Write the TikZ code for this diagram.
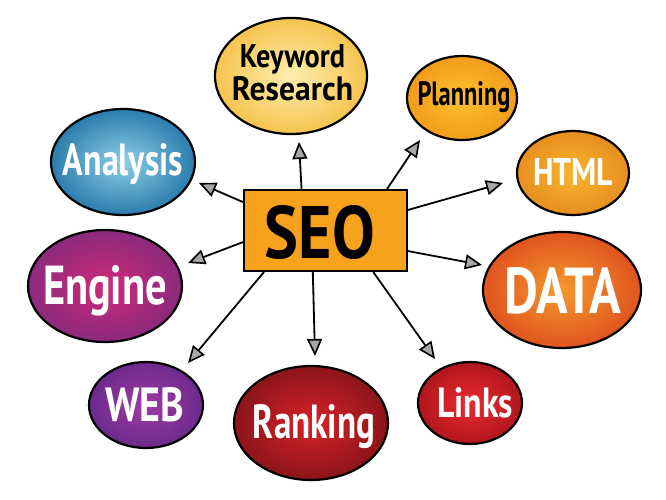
\documentclass[tikz,border=0pt]{standalone}
\usepackage{fontspec}
\setmainfont{PT Sans}
\usetikzlibrary{arrows.meta,shapes.geometric}
\definecolor{kwin}{HTML}{FCEEB0}\definecolor{kwout}{HTML}{F6C44E}
\definecolor{plin}{HTML}{FAC22E}\definecolor{plout}{HTML}{F39C1B}
\definecolor{anin}{HTML}{8DCFE6}\definecolor{anout}{HTML}{2B7DAD}
\definecolor{enin}{HTML}{CF2A7A}\definecolor{enout}{HTML}{8B2A7C}
\definecolor{htin}{HTML}{F7B62A}\definecolor{htout}{HTML}{E88E20}
\definecolor{dain}{HTML}{F49A2E}\definecolor{daout}{HTML}{E0541E}
\definecolor{wein}{HTML}{9E3BA3}\definecolor{weout}{HTML}{6C2A8C}
\definecolor{rain}{HTML}{D8212A}\definecolor{raout}{HTML}{8C1519}
\definecolor{liin}{HTML}{EC2A32}\definecolor{liout}{HTML}{B0161D}
\definecolor{seoside}{HTML}{F6A21C}\definecolor{seomid}{HTML}{FBC53C}
\newcommand{\fitlbl}[3]{\resizebox{#1pt}{#2pt}{\bfseries #3}}
\tikzset{
  bubble/.style={ellipse, draw=black, line width=2.2pt, inner sep=0pt},
  lbl/.style={inner sep=0pt, anchor=base},
  conn/.style={line width=1.8pt, -{Triangle[length=17pt, width=15pt, line width=1.6pt, fill=black!35]}},
}
\begin{document}
\begin{tikzpicture}[x=1pt,y=-1pt]
\useasboundingbox (0,0) rectangle (666,500);
\fill[white] (0,0) rectangle (666,500);
% bubbles
\node[bubble, minimum width=152pt, minimum height=116pt, inner color=kwin, outer color=kwout] (kw) at (291,76) {};
\node[bubble, minimum width=110pt, minimum height=84pt, inner color=plin, outer color=plout] (pl) at (462,98) {};
\node[bubble, minimum width=144pt, minimum height=106pt, inner color=anin, outer color=anout] (an) at (123,162) {};
\node[bubble, minimum width=154pt, minimum height=112pt, inner color=enin, outer color=enout] (en) at (105,286) {};
\node[bubble, minimum width=112pt, minimum height=84pt, inner color=htin, outer color=htout] (ht) at (573,173) {};
\node[bubble, minimum width=158pt, minimum height=116pt, inner color=dain, outer color=daout] (da) at (562,290) {};
\node[bubble, minimum width=114pt, minimum height=86pt, inner color=wein, outer color=weout] (we) at (146,405) {};
\node[bubble, minimum width=154pt, minimum height=114pt, inner color=rain, outer color=raout] (ra) at (311,423) {};
\node[bubble, minimum width=104pt, minimum height=82pt, inner color=liin, outer color=liout] (li) at (470,403) {};
% centre box
\node[draw=black, line width=2pt, minimum width=163pt, minimum height=81pt, inner sep=0pt,
      left color=seoside, middle color=seomid, right color=seoside] (seo) at (325.5,230.5) {};
% arrow tips
\coordinate (tkw) at (299,142);
\coordinate (tpl) at (420,140);
\coordinate (tan) at (199,183);
\coordinate (ten) at (188,263);
\coordinate (twe) at (188,363);
\coordinate (tra) at (315,356);
\coordinate (tli) at (435,359);
\coordinate (tda) at (482,265);
\coordinate (tht) at (503,183);
\draw[conn] (seo.120) -- (tkw);
\draw[conn] (seo.34) -- (tpl);
\draw[conn] (seo.161) -- (tan);
\draw[conn] (seo.188) -- (ten);
\draw[conn] (seo.214) -- (twe);
\draw[conn] (seo.253) -- (tra);
\draw[conn] (seo.319.5) -- (tli);
\draw[conn] (seo.346.5) -- (tda);
\draw[conn] (seo.14) -- (tht);
% labels
\node[inner sep=0pt, anchor=south, align=center] (lkw) at (292.5,101)
  {\fitlbl{105}{23}{Keyword}\\[1pt]\fitlbl{121}{24}{Research}};
\node[lbl] (lpl) at (464,106) {\fitlbl{93}{24}{Planning}};
\node[lbl, text=white] (lan) at (123,175) {\fitlbl{120}{32}{Analysis}};
\node[lbl, text=white] (len) at (105,304) {\fitlbl{124}{39}{Engine}};
\node[lbl, text=white] (lht) at (573,185) {\fitlbl{80}{27}{HTML}};
\node[lbl, text=white] (lda) at (563,313) {\fitlbl{117}{46}{DATA}};
\node[lbl, text=white] (lwe) at (144.5,421) {\fitlbl{79}{34}{WEB}};
\node[lbl, text=white] (lra) at (314,438) {\fitlbl{122}{34}{Ranking}};
\node[lbl, text=white] (lli) at (475,417) {\fitlbl{76}{30}{Links}};
\node[lbl] (lseo) at (320,258) {\fitlbl{110}{53}{SEO}};
\end{tikzpicture}
\end{document}
